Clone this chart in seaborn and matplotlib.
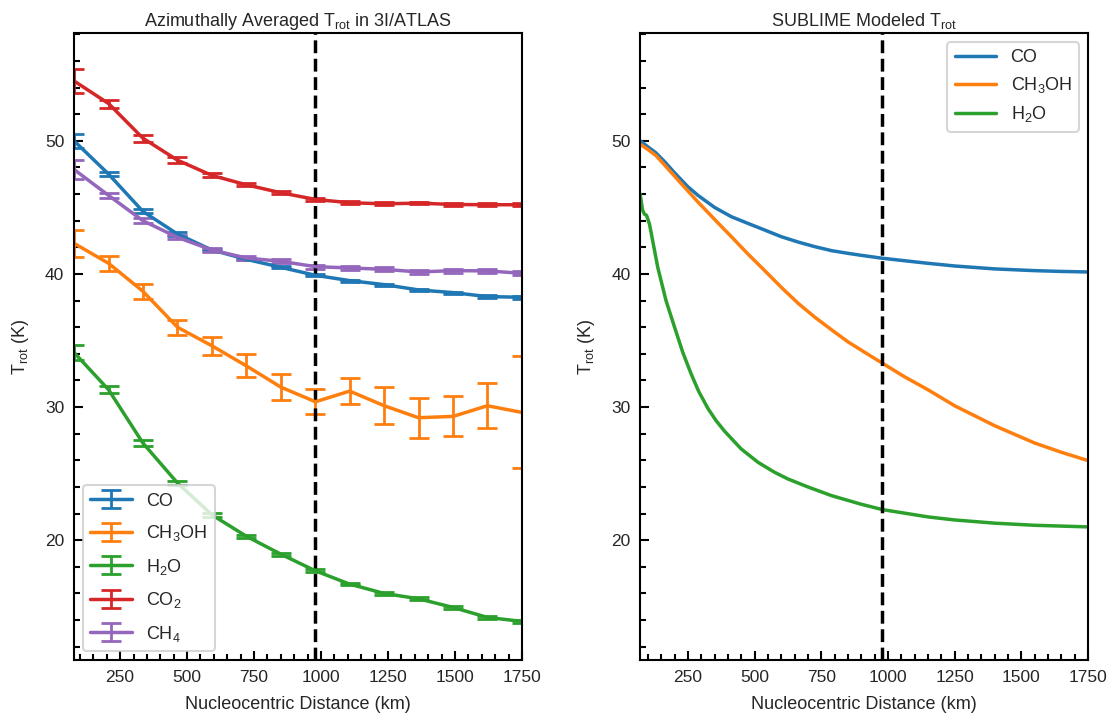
import numpy as np
import pandas as pd
import matplotlib
matplotlib.use("Agg")
import matplotlib.pyplot as plt
import seaborn as sns
from matplotlib.ticker import AutoMinorLocator

sns.set_style("white")
plt.rcParams['font.family'] = ['Liberation Sans', 'DejaVu Sans']
plt.rcParams['mathtext.default'] = 'regular'

# observed azimuthal averages (left panel)
dist_obs = [78, 207, 335, 464, 593, 721, 850, 979, 1107, 1236, 1364, 1493, 1621, 1750]

t_co = [50.0, 47.5, 44.7, 43.0, 41.8, 41.1, 40.5, 39.9, 39.5, 39.2, 38.8, 38.6, 38.3, 38.25]
e_co = [0.5, 0.17, 0.15, 0.12, 0.1, 0.08, 0.08, 0.08, 0.08, 0.08, 0.08, 0.08, 0.1, 0.1]

t_ch3oh = [42.3, 40.8, 38.7, 36.0, 34.6, 33.1, 31.5, 30.4, 31.2, 30.1, 29.2, 29.3, 30.1, 29.6]
e_ch3oh = [1.0, 0.57, 0.57, 0.57, 0.67, 0.85, 0.95, 0.93, 0.96, 1.4, 1.5, 1.5, 1.7, 4.2]

t_h2o = [34.1, 31.3, 27.3, 24.3, 21.9, 20.3, 18.95, 17.7, 16.7, 16.0, 15.6, 14.95, 14.2, 13.9]
e_h2o = [0.6, 0.25, 0.2, 0.15, 0.12, 0.1, 0.1, 0.1, 0.1, 0.1, 0.1, 0.1, 0.1, 0.1]

t_co2 = [54.5, 52.8, 50.2, 48.55, 47.4, 46.7, 46.1, 45.6, 45.35, 45.27, 45.32, 45.22, 45.2, 45.2]
e_co2 = [0.9, 0.3, 0.25, 0.2, 0.15, 0.12, 0.1, 0.1, 0.1, 0.1, 0.1, 0.1, 0.1, 0.1]

t_ch4 = [47.85, 45.9, 44.0, 42.75, 41.8, 41.2, 40.95, 40.55, 40.45, 40.35, 40.15, 40.25, 40.23, 40.05]
e_ch4 = [0.7, 0.2, 0.18, 0.15, 0.15, 0.15, 0.15, 0.15, 0.15, 0.15, 0.15, 0.15, 0.15, 0.15]

# SUBLIME model curves (right panel)
dist_co_mod = [71, 100, 130, 162, 200, 250, 288, 350, 413, 475, 538, 600, 663, 726, 789, 850,
               900, 979, 1060, 1150, 1250, 1400, 1550, 1650, 1750]
t_co_mod = [50.0, 49.55, 49.1, 48.45, 47.6, 46.55, 45.9, 45.0, 44.3, 43.8, 43.3, 42.8, 42.4,
            42.05, 41.75, 41.55, 41.4, 41.18, 41.0, 40.8, 40.6, 40.38, 40.25, 40.19, 40.15]

dist_ch3oh_mod = [71, 100, 130, 162, 220, 288, 350, 413, 475, 538, 600, 663, 726, 789, 850, 938,
                  979, 1060, 1150, 1250, 1400, 1550, 1651, 1750]
t_ch3oh_mod = [49.75, 49.35, 48.9, 48.2, 46.9, 45.4, 44.1, 42.8, 41.5, 40.25, 39.0, 37.8, 36.75,
               35.8, 34.9, 33.8, 33.3, 32.3, 31.3, 30.1, 28.6, 27.3, 26.6, 25.98]

dist_h2o_mod = [71, 80, 87, 95, 106, 137, 168, 200, 231, 262, 290, 325, 355, 387, 450, 513, 575,
                625, 700, 788, 900, 979, 1150, 1250, 1400, 1550, 1750]
t_h2o_mod = [46.0, 44.8, 44.5, 44.4, 43.75, 40.5, 38.0, 36.0, 34.1, 32.5, 31.2, 29.9, 29.0, 28.2,
             26.85, 25.85, 25.1, 24.6, 24.0, 23.35, 22.7, 22.3, 21.75, 21.52, 21.28, 21.12, 21.0]

cores = sns.color_palette("tab10")
fs = 13
fs_tick = 12.5
ylim = (11.0, 58.1)
r_crit = 979

fig, axes = plt.subplots(1, 2, figsize=(11.15, 7.21), dpi=100)
plt.subplots_adjust(left=0.0664, right=0.9758, top=0.9542, bottom=0.0846, wspace=0.264)

# painel esquerdo - observacoes
ax = axes[0]
series = [
    (t_co, e_co, 'CO'),
    (t_ch3oh, e_ch3oh, 'CH$_3$OH'),
    (t_h2o, e_h2o, 'H$_2$O'),
    (t_co2, e_co2, 'CO$_2$'),
    (t_ch4, e_ch4, 'CH$_4$'),
]
for i, (t, e, nome) in enumerate(series):
    ax.errorbar(dist_obs, t, yerr=e, color=cores[i], lw=2.5, capsize=7.5, capthick=2,
                elinewidth=2, label=nome)
ax.axvline(r_crit, color='k', ls='--', lw=2.5)
ax.set_xlim(78, 1750)
ax.set_ylim(*ylim)
ax.set_title('Azimuthally Averaged T$_{rot}$ in 3I/ATLAS', fontsize=fs, pad=5)
leg = ax.legend(loc='lower left', fontsize=fs, frameon=True, fancybox=True,
                handlelength=2.3, handletextpad=0.8, labelspacing=0.75)
leg.get_frame().set_edgecolor('#cccccc')
leg.get_frame().set_linewidth(1.5)

# painel direito - modelo
ax = axes[1]
modelos = [
    (dist_co_mod, t_co_mod, 'CO'),
    (dist_ch3oh_mod, t_ch3oh_mod, 'CH$_3$OH'),
    (dist_h2o_mod, t_h2o_mod, 'H$_2$O'),
]
for i, (d, t, nome) in enumerate(modelos):
    df = pd.DataFrame({'dist': d, 'trot': t})
    sns.lineplot(data=df, x='dist', y='trot', ax=ax, color=cores[i], lw=2.5, label=nome)
ax.axvline(r_crit, color='k', ls='--', lw=2.5)
ax.set_xlim(71, 1750)
ax.set_ylim(*ylim)
ax.set_title('SUBLIME Modeled T$_{rot}$', fontsize=fs, pad=5)
leg = ax.legend(loc='upper right', fontsize=fs, frameon=True, fancybox=True,
                handlelength=2.3, handletextpad=0.8)
leg.get_frame().set_edgecolor('#cccccc')
leg.get_frame().set_linewidth(1.5)

for ax in axes:
    ax.set_xlabel('Nucleocentric Distance (km)', fontsize=fs, labelpad=8)
    ax.set_ylabel('T$_{rot}$ (K)', fontsize=fs, labelpad=10)
    ax.set_xticks([250, 500, 750, 1000, 1250, 1500, 1750])
    ax.set_yticks([20, 30, 40, 50])
    ax.xaxis.set_minor_locator(AutoMinorLocator(5))
    ax.yaxis.set_minor_locator(AutoMinorLocator(5))
    ax.tick_params(which='both', direction='in', left=True, bottom=True, top=False, right=False,
                   labelsize=fs_tick, width=1.5, color='k')
    ax.tick_params(which='major', length=6.5)
    ax.tick_params(which='minor', length=4)
    ax.tick_params(axis='x', which='major', pad=7)
    ax.tick_params(axis='y', which='major', pad=7)
    for s in ax.spines.values():
        s.set_linewidth(1.5)
        s.set_color('k')

plt.savefig('out.png', dpi=100)
